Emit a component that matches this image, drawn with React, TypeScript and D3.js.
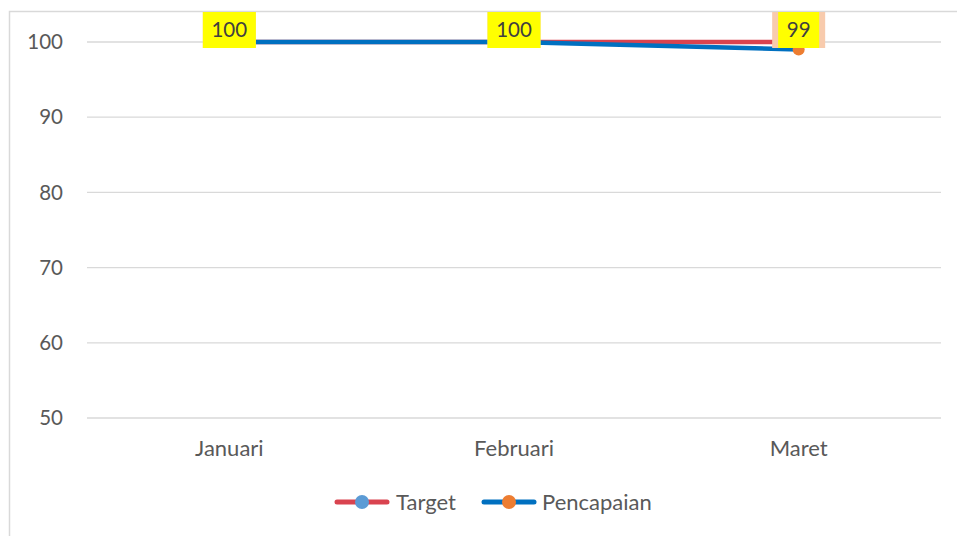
import { useEffect, useRef } from 'react';
import * as d3 from 'd3';

const months = ['Januari', 'Februari', 'Maret'];
const targetValues = [100, 100, 100];
const pencapaianValues = [100, 100, 99];
const yTicks = [50, 60, 70, 80, 90, 100];

const W = 957;
const H = 536;
const FONT = 'Lato, "Open Sans", sans-serif';
const TEXT = '#595959';

const series = [
  { name: 'Target', values: targetValues, line: '#D9434F', marker: '#5B9BD5', label: '#F8CBAD' },
  { name: 'Pencapaian', values: pencapaianValues, line: '#0070C0', marker: '#ED7D31', label: '#FFFF00' },
];

export default function App() {
  const svgRef = useRef<SVGSVGElement | null>(null);

  useEffect(() => {
    if (!svgRef.current) return;
    const svg = d3.select(svgRef.current);
    svg.selectAll('*').remove();

    const margin = { top: 42, right: 16, bottom: 118, left: 87 };
    const width = W - margin.left - margin.right;
    const height = H - margin.top - margin.bottom;

    // chart frame
    svg.append('rect')
      .attr('x', 9.5).attr('y', 11.5)
      .attr('width', W + 20).attr('height', H + 20)
      .attr('fill', '#fff').attr('stroke', '#D9D9D9').attr('stroke-width', 1.5);

    const g = svg.append('g').attr('transform', `translate(${margin.left},${margin.top})`);

    const x = d3.scaleBand().domain(months).range([0, width]);
    const y = d3.scaleLinear().domain([50, 100]).range([height, 0]);
    const cx = (m: string) => (x(m) ?? 0) + x.bandwidth() / 2;

    // grid
    g.append('g')
      .selectAll('line')
      .data(yTicks)
      .enter()
      .append('line')
      .attr('x1', 0).attr('x2', width)
      .attr('y1', d => y(d)).attr('y2', d => y(d))
      .attr('stroke', '#D9D9D9').attr('stroke-width', 1.3);

    g.append('g')
      .selectAll('text')
      .data(yTicks)
      .enter()
      .append('text')
      .attr('x', -24)
      .attr('y', d => y(d))
      .attr('dy', '0.35em')
      .attr('text-anchor', 'end')
      .attr('font-family', FONT).attr('font-size', 20.5).attr('fill', TEXT)
      .text(d => d);

    g.append('g')
      .selectAll('text')
      .data(months)
      .enter()
      .append('text')
      .attr('x', d => cx(d))
      .attr('y', height + 38)
      .attr('text-anchor', 'middle')
      .attr('font-family', FONT).attr('font-size', 22).attr('fill', TEXT)
      .text(d => d);

    const line = d3.line<number>()
      .x((_, i) => cx(months[i]))
      .y(d => y(d));

    series.forEach(s => {
      g.append('path')
        .datum(s.values)
        .attr('d', line)
        .attr('fill', 'none')
        .attr('stroke', s.line)
        .attr('stroke-width', 4.5)
        .attr('stroke-linejoin', 'round');
    });

    series.forEach(s => {
      g.append('g')
        .selectAll('circle')
        .data(s.values)
        .enter()
        .append('circle')
        .attr('cx', (_, i) => cx(months[i]))
        .attr('cy', d => y(d))
        .attr('r', 6)
        .attr('fill', s.marker);
    });

    // data labels (target labels sit behind the pencapaian labels)
    series.forEach(s => {
      const lg = g.append('g');
      s.values.forEach((v, i) => {
        const txt = String(v);
        const bw = txt.length * 12 + 17;
        const bh = 36;
        const ly = Math.min(y(v) - 12, y(100) - 12);
        lg.append('rect')
          .attr('x', cx(months[i]) - bw / 2)
          .attr('y', ly - bh / 2)
          .attr('width', bw).attr('height', bh)
          .attr('fill', s.label);
        lg.append('text')
          .attr('x', cx(months[i]))
          .attr('y', ly)
          .attr('dy', '0.35em')
          .attr('text-anchor', 'middle')
          .attr('font-family', FONT).attr('font-size', 20.5).attr('fill', '#404040')
          .text(txt);
      });
    });

    // legend
    const legend = svg.append('g').attr('transform', 'translate(0,502)');
    const items = [
      { s: series[0], x0: 334, tx: 396 },
      { s: series[1], x0: 481, tx: 542 },
    ];
    items.forEach(({ s, x0, tx }) => {
      legend.append('line')
        .attr('x1', x0 + 3).attr('x2', x0 + 53)
        .attr('y1', 0).attr('y2', 0)
        .attr('stroke', s.line).attr('stroke-width', 5).attr('stroke-linecap', 'round');
      legend.append('circle')
        .attr('cx', x0 + 28).attr('cy', 0).attr('r', 7).attr('fill', s.marker);
      legend.append('text')
        .attr('x', tx).attr('y', 0).attr('dy', '0.35em')
        .attr('font-family', FONT).attr('font-size', 22).attr('fill', TEXT)
        .text(s.name);
    });
  }, []);

  return (
    <svg
      ref={svgRef}
      width={W}
      height={H}
      style={{ position: 'absolute', left: 0, top: 0, background: '#fff' }}
    />
  );
}
